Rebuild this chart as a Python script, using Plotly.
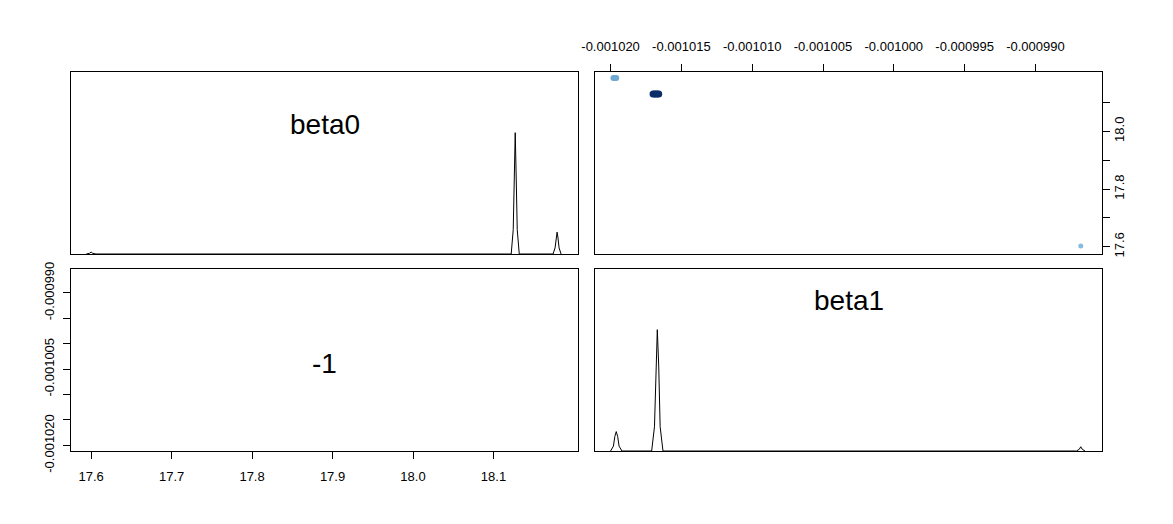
import plotly.graph_objects as go

W, H = 1173, 524
OFF = 8  # page body margin that the browser adds round the plot div

# parameter ranges (axis limits, as in the pairs plot)
beta0_range = [17.575, 18.205]
beta1_range = [-0.0010211, -0.0009853]

# scatter of the draws: beta1 (x) vs beta0 (y), colour = point density
dense_beta1 = [-0.0010170, -0.0010169, -0.0010168, -0.0010167, -0.0010166]
dense_beta0 = [18.129, 18.129, 18.129, 18.129, 18.129]
mid_beta1 = [-0.0010198, -0.0010197, -0.0010196]
mid_beta0 = [18.184, 18.184, 18.184]
sparse_beta1 = [-0.0009868]
sparse_beta0 = [17.603]

# marginal density of beta0 (relative to the tallest peak)
dens0_x = [17.594, 17.598, 17.600, 17.602, 17.606,
           18.122, 18.1245, 18.126, 18.127, 18.128, 18.1295, 18.132,
           18.174, 18.1765, 18.178, 18.179, 18.180, 18.1815, 18.184]
dens0_y = [0, 0.006, 0.016, 0.006, 0,
           0, 0.2, 0.7, 1.0, 0.7, 0.2, 0,
           0, 0.05, 0.14, 0.18, 0.14, 0.05, 0]

# marginal density of beta1
dens1_x = [-0.0010200, -0.0010198, -0.0010197, -0.0010196, -0.0010195, -0.0010194, -0.0010192,
           -0.0010171, -0.0010169, -0.0010168, -0.0010167, -0.0010166, -0.0010165, -0.0010163,
           -0.0009871, -0.0009869, -0.0009868, -0.0009867, -0.0009865]
dens1_y = [0, 0.04, 0.12, 0.16, 0.12, 0.04, 0,
           0, 0.2, 0.7, 1.0, 0.7, 0.2, 0,
           0, 0.015, 0.035, 0.015, 0]

beta0_ticks = [17.6, 17.7, 17.8, 17.9, 18.0, 18.1]
beta0_labels = ["17.6", "17.7", "17.8", "17.9", "18.0", "18.1"]
beta0_labels_side = ["17.6", "", "17.8", "", "18.0", ""]
beta1_ticks = [-0.001020, -0.001015, -0.001010, -0.001005, -0.001000, -0.000995, -0.000990]
beta1_labels = ["-0.001020", "-0.001015", "-0.001010", "-0.001005", "-0.001000", "-0.000995", "-0.000990"]
beta1_labels_side = ["-0.001020", "", "", "-0.001005", "", "", "-0.000990"]

corr_text = "-1"
names = ["beta0", "beta1"]


def px_x(p):
    return (p - OFF) / W


def px_y(p):
    return 1 - (p - OFF) / H


# panel boxes in pixels
col1 = [px_x(71), px_x(578)]
col2 = [px_x(595), px_x(1102)]
row1 = [px_y(254), px_y(72)]
row2 = [px_y(451), px_y(269)]

FONT = "Liberation Sans, Arial, sans-serif"

fig = go.Figure()
fig.add_trace(go.Scatter(x=dens0_x, y=dens0_y, mode="lines", line=dict(color="black", width=1),
                         xaxis="x", yaxis="y", showlegend=False, hoverinfo="skip"))
fig.add_trace(go.Scatter(x=dense_beta1, y=dense_beta0, mode="markers",
                         marker=dict(color="#0B2E66", size=7), xaxis="x2", yaxis="y2", showlegend=False))
fig.add_trace(go.Scatter(x=mid_beta1, y=mid_beta0, mode="markers",
                         marker=dict(color="#6FA8D2", size=6), xaxis="x2", yaxis="y2", showlegend=False))
fig.add_trace(go.Scatter(x=sparse_beta1, y=sparse_beta0, mode="markers",
                         marker=dict(color="#86BCE0", size=5), xaxis="x2", yaxis="y2", showlegend=False))
fig.add_trace(go.Scatter(x=[], y=[], mode="markers", xaxis="x3", yaxis="y3",
                         showlegend=False, hoverinfo="skip"))
fig.add_trace(go.Scatter(x=dens1_x, y=dens1_y, mode="lines", line=dict(color="black", width=1),
                         xaxis="x4", yaxis="y4", showlegend=False, hoverinfo="skip"))

box = dict(showline=True, linecolor="black", linewidth=1, mirror=True, showgrid=False,
           zeroline=False, automargin=False, tickfont=dict(family=FONT, size=13, color="black"),
           ticklen=7, tickcolor="black", tickwidth=1)
blank = dict(box, ticks="", showticklabels=False)

fig.update_layout(
    width=W, height=H, margin=dict(l=0, r=0, t=0, b=0),
    paper_bgcolor="white", plot_bgcolor="white",
    xaxis=dict(blank, domain=col1, range=beta0_range, anchor="y"),
    yaxis=dict(blank, domain=row1, range=[0, 1.5 * max(dens0_y)], anchor="x"),
    xaxis2=dict(box, domain=col2, range=beta1_range, anchor="y2", side="top", ticks="outside",
                tickvals=beta1_ticks, ticktext=beta1_labels, ticklabelstandoff=8),
    yaxis2=dict(box, domain=row1, range=beta0_range, anchor="x2", side="right", ticks="outside",
                tickvals=beta0_ticks, ticktext=beta0_labels_side, tickangle=-90, ticklabelstandoff=-2),
    xaxis3=dict(box, domain=col1, range=beta0_range, anchor="y3", ticks="outside",
                tickvals=beta0_ticks, ticktext=beta0_labels, ticklabelstandoff=6),
    yaxis3=dict(box, domain=row2, range=beta1_range, anchor="x3", ticks="outside",
                tickvals=beta1_ticks, ticktext=beta1_labels_side, tickangle=-90, ticklabelstandoff=4),
    xaxis4=dict(blank, domain=col2, range=beta1_range, anchor="y4"),
    yaxis4=dict(blank, domain=row2, range=[0, 1.5 * max(dens1_y)], anchor="x4"),
    annotations=[
        dict(text=names[0], x=px_x(324.5), y=px_y(124), xref="paper", yref="paper",
             xanchor="center", yanchor="middle", showarrow=False,
             font=dict(family=FONT, size=28, color="black")),
        dict(text=names[1], x=px_x(849), y=px_y(300), xref="paper", yref="paper",
             xanchor="center", yanchor="middle", showarrow=False,
             font=dict(family=FONT, size=28, color="black")),
        dict(text=corr_text, x=px_x(324.5), y=px_y(363), xref="paper", yref="paper",
             xanchor="center", yanchor="middle", showarrow=False,
             font=dict(family=FONT, size=28, color="black")),
    ],
)

fig.write_html("out.html")
